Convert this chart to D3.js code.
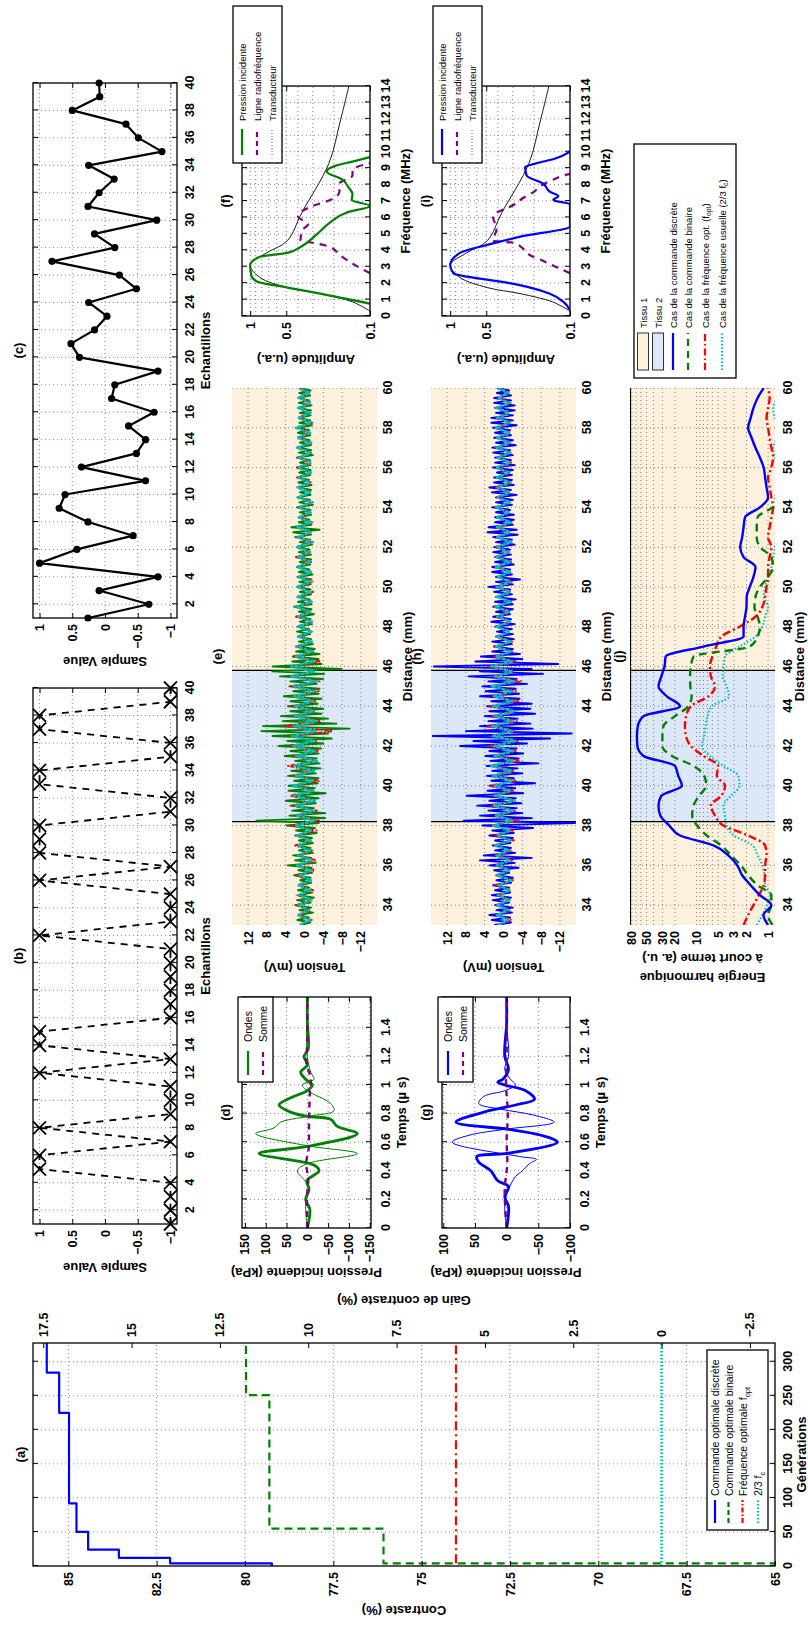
<!DOCTYPE html>
<html>
<head>
<meta charset="utf-8">
<script src="https://d3js.org/d3.v7.min.js"></script>
<style>
body { margin: 0; background: #fff; }
svg { display: block; }
</style>
</head>
<body>
<svg id="fig" width="808" height="1641"></svg>
<script>
// ---------------- data ----------------
// (a) contraste vs generations
var genTicks = [0, 50, 100, 150, 200, 250, 300];
var contrastTicks = [65, 67.5, 70, 72.5, 75, 77.5, 80, 82.5, 85];
var gainTicks = [-2.5, 0, 2.5, 5, 7.5, 10, 12.5, 15, 17.5];
var discreteGen = [0, 4, 12, 24, 50, 92, 225, 284, 328];
var discreteContrast = [79.24, 82.12, 83.57, 84.44, 84.77, 84.98, 85.26, 85.61, 85.61];
var binaryGen = [0, 4, 55, 251, 328];
var binaryContrast = [65, 76.08, 79.31, 79.97, 79.97];
var foptGen = [4, 328];
var foptContrast = [74.03, 74.03];
var fcGen = [0, 328];
var fcContrast = [68.21, 68.21];

// (b) binary command, (c) discrete command (samples 1..40)
var sampleTicks = [2, 4, 6, 8, 10, 12, 14, 16, 18, 20, 22, 24, 26, 28, 30, 32, 34, 36, 38, 40];
var valueTicks = [-1, -0.5, 0, 0.5, 1];
var binarySamples = [-1, -1, -1, -1, 1, 1, -1, 1, -1, -1, -1, 1, -1, 1, 1, -1, -1, -1, -1, -1,
                     -1, 1, -1, -1, -1, 1, -1, 1, 1, 1, -1, -1, 1, 1, -1, -1, 1, 1, -1, -1];
var discreteSamples = [0.26, -0.67, 0.09, -0.81, 1.0, 0.43, -0.43, 0.26, 0.70, 0.61,
                       -0.62, 0.36, -0.48, -0.62, -0.36, -0.75, -0.10, -0.15, -0.81, 0.39,
                       0.52, 0.16, -0.03, 0.25, -0.48, -0.22, 0.81, -0.15, 0.16, -0.79,
                       0.26, 0.09, -0.14, 0.25, -0.87, -0.51, -0.32, 0.50, 0.08, 0.09];

// (d) (g) incident pressure, time in microseconds
var timeTicks = [0, 0.2, 0.4, 0.6, 0.8, 1, 1.2, 1.4];
var dPressTicks = [-150, -100, -50, 0, 50, 100, 150];
var gPressTicks = [-100, -50, 0, 50, 100];
var dThickT = [0, 0.13, 0.2, 0.27, 0.33, 0.40, 0.44, 0.52, 0.57, 0.66, 0.71, 0.76, 0.78, 0.81, 0.86, 0.91, 0.96, 1.0, 1.04, 1.09, 1.14, 1.2, 1.25, 1.45, 1.615];
var dThickP = [0, -6, 4, -4, 1, -28, -16, 116, 0, -120, -72, -56, 0, 40, 68, 40, 0, -12, 4, 16, 0, 8, -2, 0, 0];
var dThinT = [0, 0.17, 0.29, 0.40, 0.45, 0.52, 0.575, 0.66, 0.70, 0.74, 0.78, 0.82, 0.87, 0.96, 1.0, 1.04, 1.09, 1.2, 1.4, 1.615];
var dThinP = [0, 4, -4, 24, 0, -120, 0, 124, 80, 64, 0, -64, -56, 0, 12, -16, -8, 0, 2, 0];
var dSumT = [0, 0.2, 0.35, 0.45, 0.55, 0.65, 0.75, 0.85, 0.95, 1.05, 1.15, 1.3, 1.615];
var dSumP = [0, 1, -2, 3, -3, -4, -4, -5, -6, -8, 2, 0, 0];
var gThickT = [0, 0.15, 0.22, 0.29, 0.33, 0.40, 0.46, 0.5, 0.52, 0.6, 0.65, 0.69, 0.74, 0.81, 0.86, 0.9, 0.96, 1.0, 1.02, 1.04, 1.11, 1.2, 1.43, 1.615];
var gThickP = [0, -3, 3, -3, 14, 25, 44, 47, 3, -80, -53, -3, 80, 36, -14, -44, -30, 3, 14, 6, -3, 3, 0, 0];
var gThinT = [0, 0.17, 0.27, 0.36, 0.40, 0.45, 0.48, 0.5, 0.6, 0.65, 0.69, 0.74, 0.79, 0.83, 0.87, 0.92, 0.96, 1.0, 1.04, 1.11, 1.2, 1.43, 1.615];
var gThinP = [0, 3, -3, -14, -25, -36, -47, -20, 86, 58, 3, -75, -42, 8, 44, 36, 3, -14, -6, 3, -3, 0, 0];
var gSumT = [0, 0.27, 0.45, 0.62, 0.8, 1.0, 1.2, 1.615];
var gSumP = [0, 3, -1, 0, -2, 1, 0, 0];

// (e) (h) RF lines vs distance from 33 mm: main traces every 0.125 mm, the others every 0.25 mm
var distStart = 33, mainStep = 0.125, sideStep = 0.25, energyStep = 0.5;
var distTicks = [34, 36, 38, 40, 42, 44, 46, 48, 50, 52, 54, 56, 58, 60];
var tensionTicks = [-12, -8, -4, 0, 4, 8, 12];
var tissueBounds = [33, 38.2, 45.8, 60];
var tissueKind = [1, 2, 1];
var eBinary = [
  0.8, -1.2, 1.5, -0.9, 1.3, -1.8, 1.1, -1.4, 2.0, -1.3, 1.6, -2.0, 1.2, -1.6, 1.4, -1.0,
  1.1, -1.4, 0.9, -1.3, 2.2, -1.6, 1.3, -1.5, 3.6, -2.4, 2.0, -1.4, 2.4, -1.8, 1.2, -1.3,
  1.5, -1.8, 1.2, -1.6, 2.0, -2.6, 1.8, -2.2, 3.8, -3.0, 10.2, -4.4, 3.2, -4.4, 2.6, -2.0,
  3.0, -2.4, 4.0, -3.0, 2.6, -4.5, 3.4, -2.2, 3.4, -2.8, 2.2, -3.0, 3.5, -2.4, 2.8, -3.4,
  2.5, -3.2, 2.0, -2.6, 4.2, -3.0, 3.0, -3.5, 5.5, -4.0, 3.6, -5.8, 6.8, -5.0, 9.2, -9.6,
  8.8, -6.8, 4.6, -5.0, 5.0, -3.6, 3.0, -4.0, 3.5, -2.8, 3.0, -3.6, 4.4, -3.0, 2.4, -3.2,
  3.2, -2.6, 3.0, -4.0, 5.2, -4.2, 6.8, -7.8, 6.8, -3.6, 2.6, -3.0, 2.5, -3.2, 1.8, -2.2,
  1.6, -1.8, 1.2, -1.4, 1.4, -1.2, 1.6, -1.0, 1.5, -1.6, 1.0, -1.3, 1.3, -2.0, 1.2, -1.5,
  2.2, -1.5, 1.4, -1.1, 1.2, -1.4, 1.0, -1.3, 1.6, -1.3, 1.1, -1.5, 1.5, -1.7, 1.2, -1.0,
  1.4, -1.2, 1.0, -1.4, 1.8, -1.4, 1.2, -1.1, 1.3, -1.6, 1.0, -1.2, 2.0, -1.4, 2.4, -3.2,
  2.8, -1.5, 1.2, -1.0, 1.2, -1.4, 1.0, -1.3, 1.6, -1.8, 1.1, -1.2, 1.5, -1.3, 1.0, -1.4,
  1.2, -1.5, 1.3, -1.0, 1.4, -1.2, 1.1, -1.3, 1.5, -1.3, 1.0, -1.2, 1.6, -1.8, 1.2, -1.4,
  1.2, -1.4, 1.0, -1.1, 1.3, -1.2, 1.4, -1.0, 1.5, -1.6, 1.1, -1.2, 1.2, -1.3, 1.0, -1.4,
  1.4, -1.5, 1.2, -1.0, 1.3, -1.2, 1.1, -1.3, 1.0];
var eFopt = [
  0.8, -1.5, 1.2, -1.0, 1.8, -1.2, 1.5, -1.8, 1.5, -1.2, 1.8, -2.2, 1.5, -2.5, 1.2, -1.6,
  2.0, -1.4, 1.8, -2.5, 2.8, -3.0, 2.0, -2.6, 2.5, -2.2, 3.0, -1.8, 2.0, -3.2, 2.4, -2.0,
  3.5, -2.8, 2.2, -3.0, 3.0, -2.4, 2.6, -6.0, 4.2, -3.5, 2.4, -2.0, 2.8, -2.5, 2.0, -3.0,
  3.0, -3.2, 2.4, -2.0, 2.2, -3.5, 2.5, -1.8, 1.6, -1.4, 1.2, -1.5, 1.5, -1.6, 1.8, -1.2,
  1.8, -1.5, 1.4, -1.8, 1.4, -1.8, 1.2, -1.4, 1.6, -1.4, 1.7, -1.3, 1.7, -1.3, 1.2, -1.6,
  1.5, -1.6, 1.2, -1.0, 1.2, -1.8, 1.4, -1.2, 1.4, -1.5, 1.6, -1.2, 1.6, -1.2, 1.5, -1.4,
  1.5, -1.4, 1.3, -1.1, 1.3, -1.6, 1.2, -1.0, 1.2, -1.4, 1.3, -1.0, 1.0];
var eFc = [
  1.0, -1.2, 1.4, -1.0, 1.3, -1.5, 1.2, -1.1, 1.2, -1.4, 1.0, -1.3, 1.6, -1.5, 1.4, -1.2,
  1.5, -1.3, 1.6, -1.4, 2.0, -2.2, 1.6, -1.8, 1.8, -2.0, 2.2, -1.6, 2.4, -1.8, 1.8, -2.0,
  2.2, -2.6, 1.8, -2.2, 2.4, -2.0, 2.6, -2.4, 2.2, -2.4, 2.0, -1.8, 2.0, -1.8, 2.2, -2.0,
  2.2, -2.5, 2.8, -2.0, 2.8, -2.0, 1.8, -1.6, 1.8, -1.6, 1.4, -1.5, 1.4, -1.6, 1.3, -1.2,
  1.8, -1.5, 1.5, -1.3, 1.6, -1.3, 1.2, -1.4, 1.5, -1.4, 1.3, -1.2, 1.6, -1.8, 1.4, -1.3,
  1.5, -1.4, 1.2, -1.3, 1.3, -1.6, 1.4, -1.2, 1.5, -1.2, 1.3, -1.4, 1.4, -1.5, 1.2, -1.3,
  1.6, -1.4, 1.5, -1.2, 1.8, -1.5, 1.4, -1.3, 1.3, -1.4, 1.2, -1.1, 1.2];
var hDiscrete = [
  2.0, -1.6, 2.5, -1.4, 3.0, -1.8, 1.5, -2.0, 1.8, -1.2, 2.3, -1.6, 2.5, -1.4, 1.8, -1.2,
  2.2, -1.6, 1.5, -2.0, 1.5, -1.2, 2.0, -3.2, 3.0, -2.4, 5.0, -6.0, 4.2, -2.5, 1.8, -1.6,
  2.3, -1.5, 1.8, -2.0, 3.0, -2.2, 2.4, -6.3, 4.5, -15.2, 8.5, -6.0, 5.0, -4.0, 3.2, -2.8,
  5.6, -3.8, 3.0, -2.6, 7.8, -4.2, 3.4, -2.5, 3.0, -6.7, 2.6, -2.2, 3.5, -4.0, 2.4, -3.0,
  3.6, -7.4, 2.8, -3.2, 3.8, -4.2, 3.0, -2.8, 9.2, -5.0, 6.4, -9.9, 15.0, -14.5, 8.0, -6.2,
  5.0, -5.7, 3.2, -3.0, 4.0, -6.7, 3.0, -5.7, 3.5, -6.0, 2.6, -3.4, 5.0, -3.3, 3.8, -2.6,
  4.5, -5.0, 3.2, -2.8, 7.4, -8.4, 5.0, -6.0, 14.8, -11.6, 6.0, -4.0, 4.8, -3.5, 2.4, -2.0,
  2.0, -1.8, 2.4, -2.2, 1.6, -2.0, 1.4, -1.8, 1.8, -2.4, 2.6, -1.6, 2.2, -1.4, 1.6, -2.0,
  2.2, -2.0, 1.8, -2.6, 1.6, -1.8, 2.0, -1.4, 3.2, -2.0, 1.6, -3.5, 1.6, -1.8, 2.4, -1.4,
  2.4, -2.2, 1.8, -1.6, 1.8, -1.6, 2.2, -1.4, 2.0, -2.4, 1.6, -1.8, 2.2, -3.0, 3.4, -2.8,
  3.2, -2.0, 1.8, -2.2, 1.8, -2.2, 1.6, -1.4, 2.4, -1.8, 1.6, -2.0, 1.6, -2.8, 2.5, -1.6,
  3.0, -2.2, 2.0, -1.8, 2.0, -1.8, 1.4, -2.0, 2.2, -2.4, 1.8, -1.6, 1.8, -2.0, 2.2, -1.4,
  2.4, -2.6, 1.6, -2.0, 2.0, -1.6, 1.8, -1.4, 2.2, -2.8, 2.6, -2.0, 2.6, -2.0, 1.6, -2.4,
  1.8, -2.4, 2.0, -1.6, 2.0, -1.6, 1.4, -1.2, 1.4];
var hFopt = [
  1.2, -1.8, 1.4, -1.2, 1.5, -1.4, 1.2, -1.6, 1.8, -2.0, 1.5, -1.4, 1.5, -1.8, 1.6, -1.5,
  2.0, -2.2, 1.8, -2.0, 2.5, -3.2, 2.0, -2.4, 2.8, -2.5, 2.2, -2.0, 3.0, -2.8, 2.4, -2.2,
  2.6, -3.5, 2.0, -2.6, 3.2, -3.0, 2.6, -2.4, 3.6, -2.8, 2.4, -2.2, 3.0, -3.4, 2.2, -2.6,
  2.6, -3.8, 2.2, -2.0, 3.0, -2.5, 2.0, -1.8, 2.0, -1.8, 1.6, -1.4, 1.6, -1.4, 1.5, -1.2,
  1.8, -1.5, 1.3, -1.6, 1.6, -1.7, 1.2, -1.4, 1.4, -1.6, 1.5, -1.2, 1.8, -1.5, 1.3, -1.4,
  1.4, -1.7, 1.2, -1.3, 1.5, -1.3, 1.4, -1.1, 1.6, -1.5, 1.3, -1.2, 1.2, -1.6, 1.4, -1.3,
  1.4, -1.5, 1.2, -1.4, 1.6, -1.3, 1.5, -1.2, 1.4, -1.5, 1.2, -1.0, 1.1];
var hFc = [
  1.2, -1.0, 1.4, -1.1, 1.5, -1.3, 1.2, -1.4, 1.1, -1.6, 1.3, -1.2, 1.4, -1.2, 1.5, -1.3,
  1.8, -1.6, 1.4, -1.5, 2.2, -1.8, 1.6, -2.0, 2.0, -2.4, 1.8, -1.6, 1.8, -2.0, 2.2, -1.8,
  2.6, -2.2, 1.8, -2.0, 2.0, -2.5, 2.2, -1.8, 2.4, -2.0, 1.8, -2.2, 2.2, -1.9, 2.0, -1.7,
  2.5, -2.2, 1.8, -2.0, 2.6, -1.8, 1.6, -1.5, 1.6, -1.5, 1.4, -1.3, 1.5, -1.4, 1.3, -1.2,
  1.7, -1.6, 1.4, -1.3, 1.4, -1.5, 1.2, -1.4, 1.6, -1.3, 1.5, -1.2, 1.5, -1.7, 1.3, -1.4,
  1.4, -1.5, 1.3, -1.2, 1.6, -1.4, 1.2, -1.3, 1.3, -1.5, 1.4, -1.2, 1.7, -1.4, 1.3, -1.5,
  1.5, -1.3, 1.4, -1.2, 1.6, -1.4, 1.3, -1.2, 1.5, -1.3, 1.2, -1.1, 1.1];

// (f) (i) spectra
var freqTicks = [0, 1, 2, 3, 4, 5, 6, 7, 8, 9, 10, 11, 12, 13, 14];
var ampTicks = [0.1, 0.5, 1];
var ampGrid = [0.1, 0.2, 0.3, 0.4, 0.5, 0.6, 0.7, 0.8, 0.9, 1];
var transF = [0.3, 0.86, 1.36, 1.73, 2.35, 3.1, 3.84, 4.58, 6.3, 9.3, 11.8, 14];
var transA = [0.1, 0.14, 0.26, 0.49, 0.83, 1.0, 0.73, 0.49, 0.37, 0.22, 0.178, 0.15];
var fPressF = [0.75, 1.36, 1.73, 2.1, 2.48, 3.1, 3.6, 3.84, 4.2, 4.95, 5.7, 6.3, 6.7, 7.06, 7.43, 7.8, 8.3, 8.8, 9.17, 9.4, 9.67];
var fPressA = [0.1, 0.26, 0.49, 0.88, 0.98, 1.0, 0.83, 0.49, 0.38, 0.28, 0.215, 0.156, 0.1, 0.142, 0.14, 0.15, 0.17, 0.23, 0.19, 0.14, 0.1];
var fLineF = [2.6, 3.1, 3.7, 4.2, 4.46, 4.58, 5.2, 5.57, 6.07, 6.7, 7.06, 7.56, 8.05, 8.55, 8.9, 9.3];
var fLineA = [0.1, 0.133, 0.178, 0.215, 0.30, 0.38, 0.37, 0.33, 0.40, 0.30, 0.215, 0.18, 0.18, 0.14, 0.14, 0.1];
var iPressF = [0.37, 0.87, 1.36, 1.73, 2.0, 2.6, 3.1, 3.84, 4.33, 4.83, 5.45, 6.8, 7.06, 7.3, 7.56, 8.05, 8.55, 9.05, 9.3, 9.54, 10.0];
var iPressA = [0.1, 0.114, 0.147, 0.215, 0.32, 0.94, 1.0, 0.83, 0.49, 0.26, 0.1, 0.1, 0.138, 0.125, 0.147, 0.167, 0.23, 0.237, 0.19, 0.138, 0.1];
var iLineF = [2.6, 2.97, 3.35, 3.7, 4.09, 4.46, 4.58, 5.3, 6.07, 6.8, 7.2, 7.56, 7.9, 8.3, 8.55, 8.65];
var iLineA = [0.1, 0.129, 0.167, 0.215, 0.245, 0.30, 0.44, 0.41, 0.44, 0.29, 0.245, 0.2, 0.178, 0.138, 0.114, 0.1];

// (j) short-term harmonic energy, every 0.5 mm from 33 mm
var energyTicks = [1, 2, 3, 5, 10, 20, 30, 50, 80];
var energyGrid = [1, 2, 3, 4, 5, 6, 7, 8, 9, 10, 20, 30, 40, 50, 60, 70, 80];
var jDiscrete = [1.0, 1.16, 0.9, 1.3, 1.75, 2.3, 2.7, 3.6, 5.8, 17,
                 24, 32, 34, 31, 16, 18, 20, 55, 67, 68,
                 66, 55, 17, 26, 34, 31, 28, 27, 8, 2.2,
                 2.2, 2.1, 2.0, 1.99, 1.8, 1.6, 1.5, 2.2, 2.45, 2.3,
                 2.2, 2.1, 1.3, 1.0, 1.05, 1.1, 1.15, 1.3, 1.5, 1.7,
                 1.9, 1.75, 1.6, 1.4, 1.15];
var jBinary = [0.87, 1.0, 0.9, 0.9, 1.4, 1.9, 2.4, 3.3, 4.5, 7.2,
               9.8, 11.5, 11, 9.2, 7.3, 7.8, 11, 22, 30, 30,
               29, 20, 13, 11.7, 12.2, 12.3, 12, 11, 1.8, 1.4,
               1.3, 1.4, 1.55, 1.5, 1.3, 1.0, 0.85, 0.9, 1.29, 1.44,
               1.44, 1.4, 0.86, 0.7, 0.7, 0.7, 0.7, 0.7, 0.7, 0.7,
               0.7, 0.7, 0.7, 0.7, 0.7];
var jFopt = [2.2, 1.9, 1.6, 1.35, 1.15, 1.1, 1.1, 1.05, 1.1, 1.9,
             4.2, 5.5, 6.3, 4.5, 4.0, 5.2, 5.0, 8.0, 12, 14,
             14.5, 14, 12, 6.8, 5.5, 6.3, 6.5, 6.0, 5.3, 4.5,
             2.5, 1.5, 1.2, 1.1, 1.05, 1.0, 1.0, 0.95, 0.9, 1.0,
             0.95, 0.9, 0.85, 0.9, 0.95, 1.0, 0.9, 0.85, 0.9, 0.95,
             1.0, 1.05, 1.0, 0.95, 1.0];
var jFc = [1.44, 1.2, 1.04, 0.93, 1.1, 1.12, 1.2, 1.4, 1.65, 3.0,
           3.8, 4.0, 4.2, 3.3, 2.5, 2.6, 4.2, 6.5, 8.4, 7.8,
           7.5, 7.0, 6.1, 3.5, 3.8, 4.3, 4.2, 4.0, 2.5, 1.5,
           1.2, 1.1, 1.0, 1.15, 1.1, 1.0, 0.9, 0.85, 0.8, 0.75,
           0.7, 0.7, 0.75, 0.8, 0.7, 0.7, 0.7, 0.8, 0.85, 0.75,
           0.7, 0.8, 0.85, 0.75, 0.7];

// ---------------- drawing ----------------
var FONT = "'Liberation Sans', Arial, Helvetica, sans-serif";
var W = 1641;
var BLUE = "#0000ff", GREEN = "#008000", RED = "#ff0000", CYAN = "#00bfbf", PURPLE = "#800080";
var TISSUE = {1: "#fdf0dc", 2: "#dce8f8"};

var svg = d3.select("#fig");
// the figure is laid out in landscape and turned a quarter turn
var fig = svg.append("g").attr("transform", "translate(0," + W + ") rotate(-90)");

var boxes = {
  a: {x0: 75, x1: 298, y0: 33, y1: 775},
  b: {x0: 417, x1: 953, y0: 33, y1: 177},
  c: {x0: 1023, x1: 1558, y0: 33, y1: 177},
  d: {x0: 413, x1: 644, y0: 242, y1: 371},
  g: {x0: 413, x1: 644, y0: 442, y1: 570},
  e: {x0: 716, x1: 1253, y0: 232, y1: 377},
  h: {x0: 716, x1: 1253, y0: 431, y1: 576},
  j: {x0: 716, x1: 1253, y0: 630, y1: 775},
  f: {x0: 1325, x1: 1555, y0: 242, y1: 370},
  i: {x0: 1325, x1: 1555, y0: 442, y1: 570}
};

function minus(d) { return String(d).replace("-", "\u2212"); }

function txt(g, x, y, s, o) {
  o = o || {};
  var t = g.append("text").attr("x", x).attr("y", y)
    .attr("font-family", FONT)
    .attr("font-size", o.size || 13)
    .attr("font-weight", o.weight || "bold")
    .attr("text-anchor", o.anchor || "middle")
    .attr("dominant-baseline", "central")
    .text(s);
  if (o.rotate) t.attr("transform", "rotate(" + o.rotate + "," + x + "," + y + ")");
  return t;
}

function styleAxis(sel) {
  sel.attr("font-family", FONT).attr("font-size", 12.5).attr("font-weight", "bold");
  sel.select(".domain").remove();
  sel.selectAll("line").attr("stroke", "#000");
}

function panel(id, cfg) {
  var box = boxes[id];
  var g = fig.append("g").attr("id", "panel-" + id);
  var x = d3.scaleLinear().domain(cfg.x).range([box.x0, box.x1]);
  var y = (cfg.log ? d3.scaleLog() : d3.scaleLinear()).domain(cfg.y).range([box.y1, box.y0]);
  g.append("clipPath").attr("id", "clip-" + id).append("rect")
    .attr("x", box.x0).attr("y", box.y0)
    .attr("width", box.x1 - box.x0).attr("height", box.y1 - box.y0);
  var back = g.append("g").attr("clip-path", "url(#clip-" + id + ")");
  var grid = g.append("g").attr("clip-path", "url(#clip-" + id + ")")
    .attr("stroke", "#555").attr("stroke-width", 0.7).attr("stroke-dasharray", "1,3");
  grid.selectAll("line.gx").data(cfg.xGrid || cfg.xTicks).join("line").attr("class", "gx")
    .attr("x1", function (d) { return x(d); }).attr("x2", function (d) { return x(d); })
    .attr("y1", box.y0).attr("y2", box.y1);
  grid.selectAll("line.gy").data(cfg.yGrid || cfg.yTicks).join("line").attr("class", "gy")
    .attr("y1", function (d) { return y(d); }).attr("y2", function (d) { return y(d); })
    .attr("x1", box.x0).attr("x2", box.x1);
  var plot = g.append("g").attr("clip-path", "url(#clip-" + id + ")");
  var tick = cfg.tick === undefined ? 5 : cfg.tick;

  var ax = g.append("g").attr("transform", "translate(0," + box.y1 + ")")
    .call(d3.axisBottom(x).tickValues(cfg.xTicks).tickSize(-tick).tickFormat(cfg.xFmt || minus));
  styleAxis(ax);
  ax.selectAll("text").attr("y", cfg.xOff || 13).attr("dy", null).attr("dominant-baseline", "central");

  var ay = g.append("g").attr("transform", "translate(" + box.x0 + ",0)")
    .call(d3.axisLeft(y).tickValues(cfg.yTicks).tickSize(-tick).tickFormat(cfg.yFmt || minus));
  styleAxis(ay);
  ay.selectAll("text").attr("x", -6).attr("dy", null).attr("dominant-baseline", "central");

  if (tick > 0) {
    var at = g.append("g").attr("transform", "translate(0," + box.y0 + ")")
      .call(d3.axisTop(x).tickValues(cfg.xTicks).tickSize(-tick).tickFormat(""));
    styleAxis(at);
    if (!cfg.noRight) {
      var ar = g.append("g").attr("transform", "translate(" + box.x1 + ",0)")
        .call(d3.axisRight(y).tickValues(cfg.yTicks).tickSize(-tick).tickFormat(""));
      styleAxis(ar);
    }
  }
  if (cfg.frame !== false) {
    g.append("rect").attr("x", box.x0).attr("y", box.y0)
      .attr("width", box.x1 - box.x0).attr("height", box.y1 - box.y0)
      .attr("fill", "none").attr("stroke", "#000").attr("stroke-width", 1.3);
  }
  var mx = (box.x0 + box.x1) / 2, my = (box.y0 + box.y1) / 2;
  if (cfg.title) txt(g, mx, box.y0 - (cfg.titleOff || 15), cfg.title);
  if (cfg.xLabel) txt(g, mx, box.y1 + (cfg.xLabOff || 29), cfg.xLabel);
  if (cfg.yLabel) txt(g, box.x0 - (cfg.yLabOff || 43), my, cfg.yLabel, {rotate: -90});
  return {g: g, x: x, y: y, back: back, plot: plot, box: box};
}

function pairs(xs, ys) { return xs.map(function (v, i) { return [v, ys[i]]; }); }
function sampled(vals, step) { return vals.map(function (v, i) { return [distStart + i * step, v]; }); }

function path(p, data, curve, stroke, width, dash) {
  var line = d3.line()
    .x(function (d) { return p.x(d[0]); })
    .y(function (d) { return p.y(d[1]); })
    .curve(curve || d3.curveLinear);
  return p.plot.append("path").datum(data).attr("d", line)
    .attr("fill", "none").attr("stroke", stroke).attr("stroke-width", width)
    .attr("stroke-dasharray", dash || null).attr("stroke-linejoin", "round");
}

function legend(spec) {
  var g = fig.append("g");
  g.append("rect").attr("x", spec.x0).attr("y", spec.y0)
    .attr("width", spec.x1 - spec.x0).attr("height", spec.y1 - spec.y0)
    .attr("fill", "#fff").attr("stroke", "#000").attr("stroke-width", 1.3);
  spec.rows.forEach(function (r, i) {
    var yy = spec.rowY[i];
    if (r.patch) {
      g.append("rect").attr("x", spec.s0).attr("y", yy - 5.5).attr("width", spec.s1 - spec.s0).attr("height", 11)
        .attr("fill", r.patch).attr("stroke", "#333").attr("stroke-width", 1);
    } else {
      g.append("line").attr("x1", spec.s0).attr("x2", spec.s1).attr("y1", yy).attr("y2", yy)
        .attr("stroke", r.color).attr("stroke-width", r.width || 2.2).attr("stroke-dasharray", r.dash || null);
    }
    var t = g.append("text").attr("x", spec.tx).attr("y", yy)
      .attr("font-family", FONT).attr("font-size", spec.size)
      .attr("dominant-baseline", "central").text(r.text);
    if (r.sub) {
      t.append("tspan").attr("baseline-shift", "sub").attr("font-size", spec.size * 0.72).text(r.sub);
      if (r.after) t.append("tspan").text(r.after);
    }
  });
}

// ---- (a)
var pa = panel("a", {
  x: [0, 327.5], y: [65, 86], xTicks: genTicks, yTicks: contrastTicks, noRight: true,
  xFmt: String, yFmt: minus,
  title: "(a)", titleOff: 13, xLabel: "G\u00e9n\u00e9rations", xLabOff: 26,
  yLabel: "Contraste (%)", yLabOff: 44
});
var gainRef = fcContrast[0];
var yGain = d3.scaleLinear().domain([65 - gainRef, 86 - gainRef]).range([boxes.a.y1, boxes.a.y0]);
var agr = pa.g.append("g").attr("transform", "translate(" + boxes.a.x1 + ",0)")
  .call(d3.axisRight(yGain).tickValues(gainTicks).tickSize(-5).tickFormat(minus));
styleAxis(agr);
agr.selectAll("text").attr("x", 6).attr("dy", null).attr("dominant-baseline", "central");
txt(pa.g, boxes.a.x1 + 43, (boxes.a.y0 + boxes.a.y1) / 2, "Gain de contraste (%)", {rotate: -90});
path(pa, pairs(fcGen, fcContrast), null, CYAN, 2.8, "1.5,2");
path(pa, pairs(foptGen, foptContrast), null, RED, 2.2, "9,4,2,4");
path(pa, pairs(binaryGen, binaryContrast), d3.curveStepAfter, GREEN, 2.2, "8,5");
path(pa, pairs(discreteGen, discreteContrast), d3.curveStepAfter, BLUE, 2.2);
legend({
  x0: 111, x1: 291, y0: 707, y1: 768, s0: 118, s1: 141, tx: 145, size: 10.5,
  rowY: [715, 728.5, 742.5, 758],
  rows: [
    {color: BLUE, text: "Commande optimale discr\u00e8te"},
    {color: GREEN, dash: "5,3", text: "Commande optimale binaire"},
    {color: RED, dash: "5,2,1.5,2", text: "Fr\u00e9quence optimale f", sub: "opt"},
    {color: CYAN, dash: "1.5,2", width: 2.4, text: "2/3 f", sub: "c"}
  ]
});

// ---- (b)
var pb = panel("b", {
  x: [1, 40], y: [-1.1, 1.1], xTicks: sampleTicks, yTicks: valueTicks,
  title: "(b)", xLabel: "Echantillons", xLabOff: 28, yLabel: "Sample Value"
});
var bData = binarySamples.map(function (v, i) { return [i + 1, v]; });
path(pb, bData, null, "#000", 1.8, "7,6");
pb.g.append("g").selectAll("path").data(bData).join("path")
  .attr("transform", function (d) { return "translate(" + pb.x(d[0]) + "," + pb.y(d[1]) + ")"; })
  .attr("d", "M-6.5,-6.5L6.5,6.5M-6.5,6.5L6.5,-6.5").attr("stroke", "#000").attr("stroke-width", 1.8);

// ---- (c)
var pc = panel("c", {
  x: [1, 40], y: [-1.1, 1.1], xTicks: sampleTicks, yTicks: valueTicks,
  title: "(c)", xLabel: "Echantillons", xLabOff: 28, yLabel: "Sample Value"
});
var cData = discreteSamples.map(function (v, i) { return [i + 1, v]; });
path(pc, cData, null, "#000", 2.2);
pc.g.append("g").selectAll("circle").data(cData).join("circle")
  .attr("cx", function (d) { return pc.x(d[0]); }).attr("cy", function (d) { return pc.y(d[1]); })
  .attr("r", 3.6).attr("fill", "#000");

// ---- (d) (g)
function pressurePanel(id, yDom, yTicks, title, col, thick, thin, sum) {
  var p = panel(id, {
    x: [0, 1.615], y: yDom, xTicks: timeTicks, yTicks: yTicks, xFmt: String,
    title: title, titleOff: 17, xOff: 15, xLabel: "Temps (\u00b5 s)", xLabOff: 30,
    yLabel: "Pression incidente (kPa)", yLabOff: 44
  });
  var cr = d3.curveCatmullRom.alpha(0.5);
  path(p, thin, cr, col, 1.0);
  path(p, thick, cr, col, 2.8);
  path(p, sum, cr, PURPLE, 2.4, "6,5");
  return p;
}
pressurePanel("d", [-153, 157], dPressTicks, "(d)", GREEN,
  pairs(dThickT, dThickP), pairs(dThinT, dThinP), pairs(dSumT, dSumP));
pressurePanel("g", [-100, 102], gPressTicks, "(g)", BLUE,
  pairs(gThickT, gThickP), pairs(gThinT, gThinP), pairs(gSumT, gSumP));
[["d", GREEN], ["g", BLUE]].forEach(function (k) {
  var b = boxes[k[0]];
  legend({
    x0: 559, x1: 644, y0: b.y0 - 4, y1: b.y0 + 31, s0: 566, s1: 590, tx: 599, size: 10.5,
    rowY: [b.y0 + 6, b.y0 + 21],
    rows: [{color: k[1], text: "Ondes"}, {color: PURPLE, dash: "5,4", text: "Somme"}]
  });
});

// ---- (e) (h) (j) tissue panels
function tissues(p) {
  for (var k = 0; k < tissueKind.length; k++) {
    p.back.append("rect")
      .attr("x", p.x(tissueBounds[k])).attr("width", p.x(tissueBounds[k + 1]) - p.x(tissueBounds[k]))
      .attr("y", p.box.y0).attr("height", p.box.y1 - p.box.y0)
      .attr("fill", TISSUE[tissueKind[k]]);
  }
  p.back.selectAll("line.edge").data(tissueBounds.slice(1, -1)).join("line").attr("class", "edge")
    .attr("x1", function (d) { return p.x(d); }).attr("x2", function (d) { return p.x(d); })
    .attr("y1", p.box.y0).attr("y2", p.box.y1)
    .attr("stroke", "#000").attr("stroke-width", 1.2);
}

function rfPanel(id, title, main, mainCol, fopt, fc) {
  var p = panel(id, {
    x: [33, 60], y: [-15.4, 15.4], xTicks: distTicks, yTicks: tensionTicks, xFmt: String,
    tick: 0, frame: false, title: title, xOff: 11, xLabel: "Distance (mm)", xLabOff: 30,
    yLabel: "Tension (mV)", yLabOff: 42
  });
  tissues(p);
  path(p, sampled(main, mainStep), null, mainCol, 1.9);
  path(p, sampled(fopt, sideStep), null, RED, 2.0, "4,2,1.5,2");
  path(p, sampled(fc, sideStep), null, CYAN, 2.5, "4,1");
  return p;
}
rfPanel("e", "(e)", eBinary, GREEN, eFopt, eFc);
rfPanel("h", "(h)", hDiscrete, BLUE, hFopt, hFc);

var pj = panel("j", {
  x: [33, 60], y: [0.8, 85], log: true, xTicks: distTicks, yTicks: energyTicks, yGrid: energyGrid,
  xFmt: String, yFmt: String, tick: 0, frame: false, title: "(j)", titleOff: 12,
  xLabel: "Distance (mm)", xLabOff: 24
});
tissues(pj);
pj.back.append("line").attr("x1", boxes.j.x0).attr("x2", boxes.j.x1)
  .attr("y1", boxes.j.y0 + 0.5).attr("y2", boxes.j.y0 + 0.5).attr("stroke", "#000").attr("stroke-width", 1.2);
txt(pj.g, boxes.j.x0 - 52, (boxes.j.y0 + boxes.j.y1) / 2, "Energie harmonique", {rotate: -90});
txt(pj.g, boxes.j.x0 - 33, (boxes.j.y0 + boxes.j.y1) / 2, "\u00e0 court terme (a. u.)", {rotate: -90});
var mono = d3.curveMonotoneX;
path(pj, sampled(jFc, energyStep), mono, CYAN, 2.2, "1.5,2");
path(pj, sampled(jFopt, energyStep), mono, RED, 2.4, "8,3,2,3");
path(pj, sampled(jBinary, energyStep), mono, GREEN, 2.4, "8,5");
path(pj, sampled(jDiscrete, energyStep), mono, BLUE, 2.4);
legend({
  x0: 1263, x1: 1497, y0: 634, y1: 736, s0: 1271, s1: 1308, tx: 1313, size: 9.5,
  rowY: [643, 658, 673, 688, 705, 722],
  rows: [
    {patch: TISSUE[1], text: "Tissu 1"},
    {patch: TISSUE[2], text: "Tissu 2"},
    {color: BLUE, text: "Cas de la commande discr\u00e8te"},
    {color: GREEN, dash: "7,5", text: "Cas de la commande binaire"},
    {color: RED, dash: "7,3,1.5,3", text: "Cas de la fr\u00e9quence opt. (f", sub: "opt", after: ")"},
    {color: CYAN, dash: "1.5,2", text: "Cas de la fr\u00e9quence usuelle (2/3 f", sub: "c", after: ")"}
  ]
});

// ---- (f) (i) spectra
function specPanel(id, title, press, pressCol, line) {
  var p = panel(id, {
    x: [0, 14], y: [0.1, 1.17], log: true, xTicks: freqTicks, yTicks: ampTicks, yGrid: ampGrid,
    xFmt: String, yFmt: String, title: title, titleOff: 17, xOff: 16, xLabel: "Fr\u00e9quence (MHz)", xLabOff: 35,
    yLabel: "Amplitude (u.a.)", yLabOff: 43
  });
  var mono = d3.curveMonotoneX;
  path(p, pairs(transF, transA), d3.curveCatmullRom, "#000", 0.9);
  path(p, line, mono, PURPLE, 2.2, "7,6");
  path(p, press, mono, pressCol, 2.2);
  var b = boxes[id];
  legend({
    x0: 1478, x1: 1635, y0: b.y0 - 9, y1: b.y0 + 40, s0: 1486, s1: 1512, tx: 1520, size: 9.5,
    rowY: [b.y0, b.y0 + 15, b.y0 + 30],
    rows: [
      {color: pressCol, text: "Pression incidente"},
      {color: PURPLE, dash: "5,4", text: "Ligne radiofr\u00e9quence"},
      {color: "#555", dash: "1,2", width: 1, text: "Transducteur"}
    ]
  });
}
specPanel("f", "(f)", pairs(fPressF, fPressA), GREEN, pairs(fLineF, fLineA));
specPanel("i", "(i)", pairs(iPressF, iPressA), BLUE, pairs(iLineF, iLineA));
</script>
</body>
</html>
